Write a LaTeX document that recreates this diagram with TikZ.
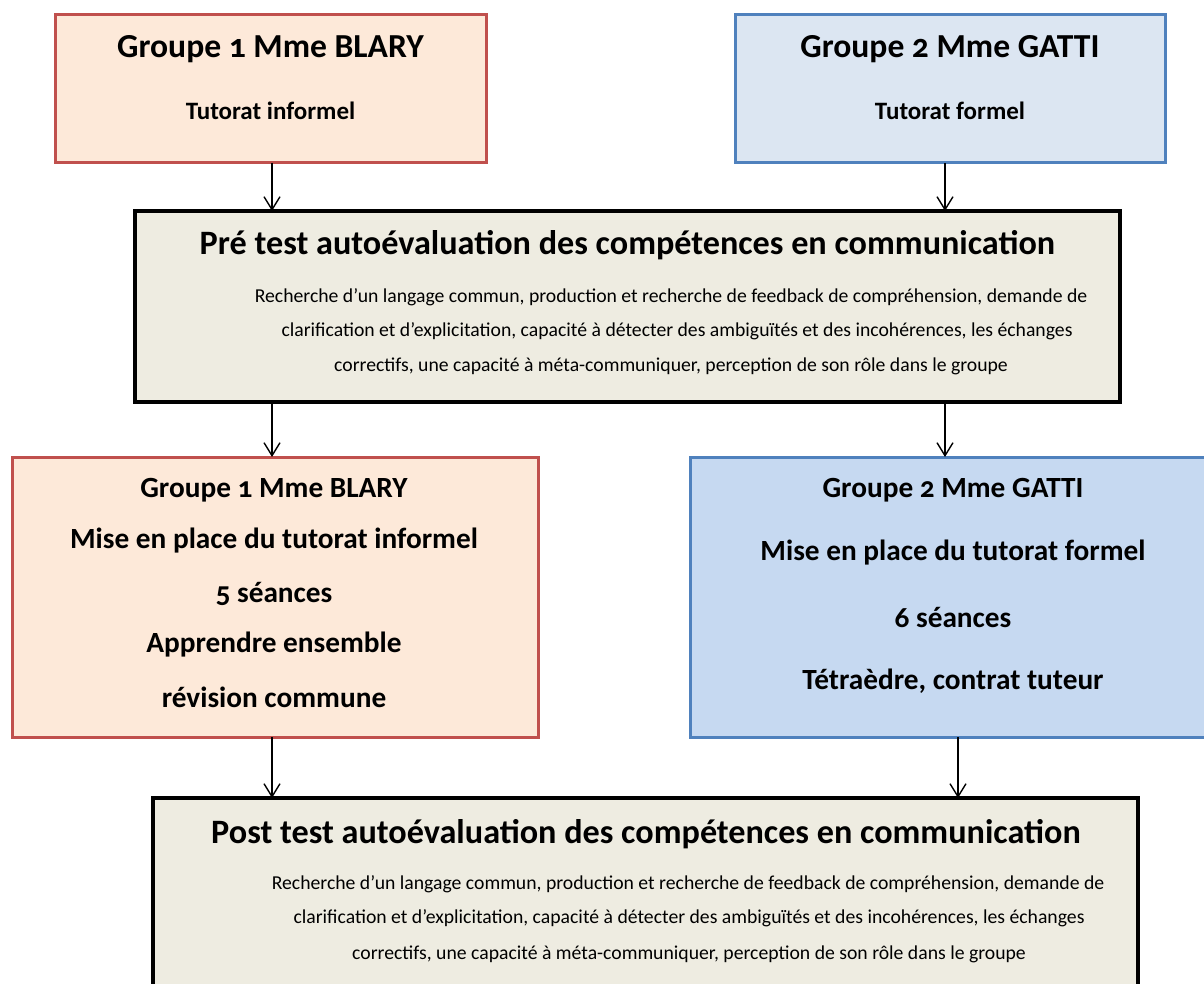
\documentclass[tikz,border=0pt]{standalone}
\usepackage{fontspec}
\setmainfont{Carlito}[Numbers=OldStyle]
\definecolor{redb}{HTML}{C0504D}
\definecolor{redf}{HTML}{FDE9D9}
\definecolor{blueb}{HTML}{4F81BD}
\definecolor{bluef}{HTML}{DCE6F2}
\definecolor{bluef2}{HTML}{C6D9F1}
\definecolor{beige}{HTML}{EEECE1}
\usetikzlibrary{arrows.meta}
\tikzset{
  box/.style={draw, inner sep=0pt, outer sep=0pt},
  redbox/.style={box, draw=redb, fill=redf, line width=3pt},
  bluebox/.style={box, draw=blueb, fill=bluef, line width=3pt},
  bluebox2/.style={box, draw=blueb, fill=bluef2, line width=3pt},
  testbox/.style={box, draw=black, fill=beige, line width=4pt},
  arr/.style={-{Straight Barb[length=13pt,width=16pt]}, line width=1.4pt},
  bigt/.style={inner sep=0pt, font=\bfseries\fontsize{33.6}{38}\selectfont},
  subt/.style={inner sep=0pt, font=\bfseries\fontsize{25}{29}\selectfont},
  midt/.style={inner sep=0pt, font=\bfseries\fontsize{29.3}{33}\selectfont},
  testt/.style={inner sep=0pt, font=\bfseries\fontsize{34.2}{38}\selectfont},
  small/.style={inner sep=0pt, font=\fontsize{19.7}{23}\selectfont},
}
\begin{document}
\begin{tikzpicture}[x=1pt,y=-1pt]
\useasboundingbox (0,0) rectangle (1204,984);
\clip (0,0) rectangle (1204,984);
% boxes
\node[redbox, minimum width=431pt, minimum height=148pt] (A) at (270.5,89) {};
\node[bluebox, minimum width=430pt, minimum height=148pt] (B) at (950,89) {};
\node[testbox, minimum width=985pt, minimum height=191pt] (C) at (627.5,306.5) {};
\node[redbox, minimum width=526pt, minimum height=280pt] (D) at (275,597) {};
\node[bluebox2, minimum width=520pt, minimum height=280pt] (E) at (950,597) {};
\node[testbox, minimum width=985pt, minimum height=220pt] (F) at (645.5,908) {};
% box A
\node[bigt] (a1) at (270.5,49) {Groupe 1 Mme BLARY};
\node[subt] (a2) at (270.5,111) {Tutorat informel};
% box B
\node[bigt] (b1) at (950,49) {Groupe 2 Mme GATTI};
\node[subt] (b2) at (950,111) {Tutorat formel};
% box C
\node[testt] (c1) at (627.5,245) {Pré test autoévaluation des compétences en communication};
\node[small] (c2) at (671,297) {Recherche d’un langage commun, production et recherche de feedback de compréhension, demande de};
\node[small] (c3) at (677,331) {clarification et d’explicitation, capacité à détecter des ambiguïtés et des incohérences, les échanges};
\node[small] (c4) at (671,366) {correctifs, une capacité à méta-communiquer, perception de son rôle dans le groupe};
% box D
\node[midt] (d1) at (274,490) {Groupe 1 Mme BLARY};
\node[midt] (d2) at (274,541) {Mise en place du tutorat informel};
\node[midt] (d3) at (274,594) {5 séances};
\node[midt] (d4) at (274,645) {Apprendre ensemble};
\node[midt] (d5) at (274,697) {révision commune};
% box E
\node[midt] (e1) at (953,490) {Groupe 2 Mme GATTI};
\node[midt] (e2) at (953,553) {Mise en place du tutorat formel};
\node[midt] (e3) at (953,617) {6 séances};
\node[midt] (e4) at (953,681) {Tétraèdre, contrat tuteur};
% box F
\node[testt] (f1) at (646,834) {Post test autoévaluation des compétences en communication};
\node[small] (f2) at (688,884) {Recherche d’un langage commun, production et recherche de feedback de compréhension, demande de};
\node[small] (f3) at (689,918) {clarification et d’explicitation, capacité à détecter des ambiguïtés et des incohérences, les échanges};
\node[small] (f4) at (689,954) {correctifs, une capacité à méta-communiquer, perception de son rôle dans le groupe};
% arrows
\draw[arr] ([xshift=1.5pt]A.south) -- ([xshift=1.5pt]A.south |- C.north);
\draw[arr] ([xshift=-5pt]B.south) -- ([xshift=-5pt]B.south |- C.north);
\draw[arr] ([xshift=-3pt]D.north |- C.south) -- ([xshift=-3pt]D.north);
\draw[arr] ([xshift=-5pt]C.south -| B.south) -- ([xshift=-5pt]B.south |- E.north);
\draw[arr] ([xshift=-3pt]D.south) -- ([xshift=-3pt]D.south |- F.north);
\draw[arr] ([xshift=8pt]E.south) -- ([xshift=8pt]E.south |- F.north);
\end{tikzpicture}
\end{document}
